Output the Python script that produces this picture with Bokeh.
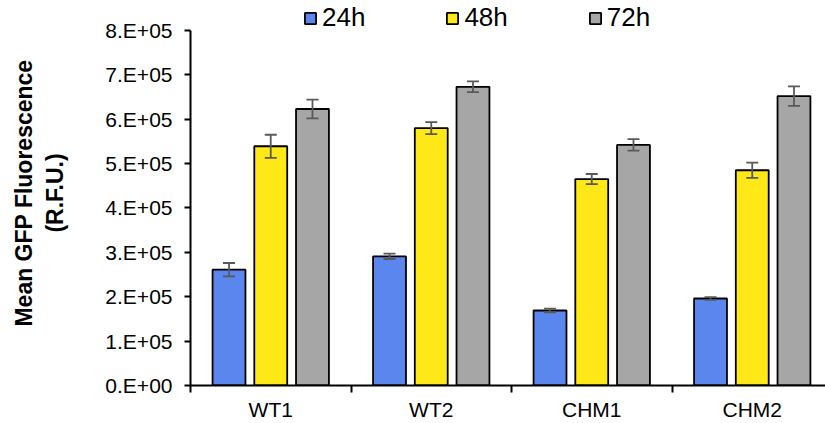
from bokeh.plotting import figure
from bokeh.models import ColumnDataSource, Range1d, FixedTicker, Whisker, TeeHead, Legend, LegendItem
from bokeh.embed import file_html
from bokeh.resources import INLINE

groups = ["WT1", "WT2", "CHM1", "CHM2"]
series = ["24h", "48h", "72h"]
mean_24h = [2.61e5, 2.91e5, 1.69e5, 1.96e5]
mean_48h = [5.39e5, 5.80e5, 4.65e5, 4.85e5]
mean_72h = [6.23e5, 6.73e5, 5.42e5, 6.52e5]
err_24h = [1.5e4, 6e3, 4e3, 3e3]
err_48h = [2.6e4, 1.35e4, 1.15e4, 1.7e4]
err_72h = [2.1e4, 1.2e4, 1.3e4, 2.2e4]
y_ticks = [0, 100000, 200000, 300000, 400000, 500000, 600000, 700000, 800000]
y_tick_labels = ["0.E+00", "1.E+05", "2.E+05", "3.E+05", "4.E+05",
                 "5.E+05", "6.E+05", "7.E+05", "8.E+05"]

colors = ["#5a86ed", "#ffe817", "#a6a6a6"]
offsets = [-0.26, 0.0, 0.26]
means = [mean_24h, mean_48h, mean_72h]
errs = [err_24h, err_48h, err_72h]

FONT = "Liberation Sans"

# frame spans the full top of the page so the legend (above 8.E+05) is not clipped
p = figure(width=825, height=423, output_backend="svg", toolbar_location=None,
           x_range=Range1d(0, 635 / 160.5),
           y_range=Range1d(0, 800000 * 386 / 356),
           min_border_left=190, min_border_top=0, min_border_bottom=37,
           min_border_right=0)
p.outline_line_color = None
p.xgrid.grid_line_color = None
p.ygrid.grid_line_color = None

items = []
for k in range(3):
    xs = [i + 0.5 + offsets[k] for i in range(len(groups))]
    src = ColumnDataSource(dict(
        x=xs, top=means[k],
        upper=[m + e for m, e in zip(means[k], errs[k])],
        lower=[m - e for m, e in zip(means[k], errs[k])]))
    r = p.vbar(x="x", top="top", bottom=0, width=0.205, source=src,
               fill_color=colors[k], line_color="black", line_width=1.8)
    items.append(LegendItem(label=series[k], renderers=[r]))
    w = Whisker(base="x", upper="upper", lower="lower", source=src,
                level="overlay",
                line_color="#595959", line_width=1.8,
                upper_head=TeeHead(size=12, line_color="#595959", line_width=1.8),
                lower_head=TeeHead(size=12, line_color="#595959", line_width=1.8))
    p.add_layout(w)

# x axis
p.xaxis.ticker = FixedTicker(ticks=[i + 0.5 for i in range(len(groups))],
                             minor_ticks=[0, 1, 2, 3, 4])
p.xaxis.major_label_overrides = {i + 0.5: g for i, g in enumerate(groups)}
p.xaxis.major_tick_out = 0
p.xaxis.major_tick_in = 0
p.xaxis.minor_tick_out = 7
p.xaxis.minor_tick_in = 0
p.xaxis.minor_tick_line_width = 2
p.xaxis.minor_tick_line_color = "black"
p.xaxis.axis_line_width = 2
p.xaxis.axis_line_color = "black"
p.xaxis.major_label_text_font = FONT
p.xaxis.major_label_text_font_size = "21px"
p.xaxis.major_label_text_color = "black"
p.xaxis.major_label_standoff = 5

# y axis
p.yaxis.ticker = FixedTicker(ticks=y_ticks, minor_ticks=[])
p.yaxis.bounds = (0, 800000)
p.yaxis.major_label_overrides = {t: l for t, l in zip(y_ticks, y_tick_labels)}
p.yaxis.major_tick_out = 6
p.yaxis.major_tick_in = 0
p.yaxis.major_tick_line_width = 2
p.yaxis.major_tick_line_color = "black"
p.yaxis.axis_line_width = 2
p.yaxis.axis_line_color = "black"
p.yaxis.major_label_text_font = FONT
p.yaxis.major_label_text_font_size = "21px"
p.yaxis.major_label_text_color = "black"
p.yaxis.major_label_standoff = 12
p.yaxis.axis_label = "Mean GFP Fluorescence\n(R.F.U.)"
p.yaxis.axis_label_text_font = FONT
p.yaxis.axis_label_text_font_style = "bold"
p.yaxis.axis_label_text_font_size = "23px"
p.yaxis.axis_label_text_color = "black"
p.yaxis.axis_label_standoff = 34

# legend
lg = Legend(items=items, orientation="horizontal", location=(113, 352),
            border_line_color=None, background_fill_alpha=0,
            padding=0, margin=0, spacing=80,
            glyph_width=14, glyph_height=14, label_standoff=5,
            label_text_font=FONT, label_text_font_size="26px",
            label_text_color="black", label_height=24)
p.add_layout(lg, "center")

open("out.html", "w").write(file_html(p, INLINE))
